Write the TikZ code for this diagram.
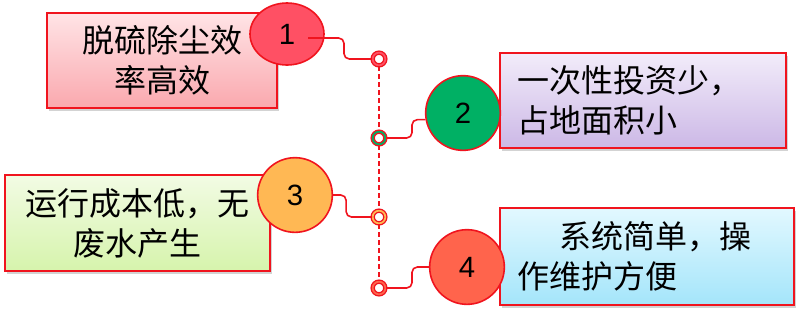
\documentclass[tikz,border=0pt]{standalone}
\usepackage{fontspec}
\setmainfont{Liberation Sans}
\newfontfamily\cjk{Noto Sans CJK SC}
\usepackage{tikz}
\usetikzlibrary{shapes.geometric, shadows, calc}
\definecolor{linkred}{RGB}{240,20,30}
\definecolor{topred}{RGB}{255,228,230}
\definecolor{botred}{RGB}{250,168,174}
\definecolor{toppurple}{RGB}{242,236,250}
\definecolor{botpurple}{RGB}{204,184,230}
\definecolor{topgreen}{RGB}{242,251,228}
\definecolor{botgreen}{RGB}{214,244,172}
\definecolor{topcyan}{RGB}{226,248,255}
\definecolor{botcyan}{RGB}{164,229,250}
\definecolor{discred}{RGB}{255,80,100}
\definecolor{discgreen}{RGB}{0,176,100}
\definecolor{discorange}{RGB}{255,184,84}
\definecolor{discsalmon}{RGB}{255,100,76}
\tikzset{
  featbox/.style={rectangle, draw=linkred, line width=1.2pt,
    font=\cjk\fontsize{24}{30}\selectfont, inner sep=0pt,
    drop shadow={shadow xshift=1.5pt, shadow yshift=-2pt, opacity=0.35}},
  numdisc/.style={circle, draw=linkred, line width=1.2pt, inner sep=0pt,
    minimum size=56pt, font=\fontsize{22}{26}\selectfont},
  joint/.style={circle, draw=linkred, line width=1pt, double=#1,
    double distance=1.3pt, fill=white, inner sep=0pt, minimum size=9.5pt},
  link/.style={linkred, line width=1.2pt, rounded corners=4pt},
  spine/.style={linkred, line width=1.1pt, dash pattern=on 3.5pt off 2.5pt}
}

\begin{document}
\begin{tikzpicture}[x=0.75pt, y=-0.75pt]
  \path[use as bounding box] (0,0) rectangle (800,330);
  % feature boxes
  \node[featbox, top color=topred, bottom color=botred, align=center,
    minimum width=172.5pt, minimum height=71.25pt] (b1) at (162,60.5)
    {脱硫除尘效\\率高效};
  \node[featbox, top color=toppurple, bottom color=botpurple, align=left,
    text width=189pt, inner xsep=12.75pt, minimum height=71.25pt] (b2) at (643,100.5)
    {一次性投资少，\\占地面积小};
  \node[featbox, top color=topgreen, bottom color=botgreen, align=center,
    minimum width=198.75pt, minimum height=72pt] (b3) at (137.5,223)
    {运行成本低，无\\废水产生};
  \node[featbox, top color=topcyan, bottom color=botcyan, align=left,
    text width=195pt, inner xsep=12.75pt, minimum height=72.75pt] (b4) at (647,256.5)
    {\hspace*{32pt}系统简单，操\\作维护方便};
  % numbered discs
  \node[ellipse, draw=linkred, line width=1.2pt, fill=discred, inner sep=0pt,
    minimum width=55.5pt, minimum height=46.5pt,
    font=\fontsize{22}{26}\selectfont] (c1) at (287,34) {1};
  \node[numdisc, fill=discgreen] (c2) at (463,113) {2};
  \node[numdisc, fill=discorange] (c3) at (295,195) {3};
  \node[numdisc, fill=discsalmon] (c4) at (467,267) {4};
  % joints on the spine
  \node[joint=discred] (j1) at (379,59) {};
  \node[joint=discgreen] (j2) at (379,138) {};
  \node[joint=discorange] (j3) at (379,217) {};
  \node[joint=discsalmon] (j4) at (379,288) {};
  \draw[spine] (j1) -- (j2);
  \draw[spine] (j2) -- (j3);
  \draw[spine] (j3) -- (j4);
  % links
  \draw[link] ($(c1.center)+(21,4)$) -- ++(36,0) |- (j1);
  \draw[link] (j2) -- ++(33,0) |- (c2.190);
  \draw[link] (c3.east) -- ++(13,0) |- (j3);
  \draw[link] (j4) -- ++(33,0) |- (c4);
\end{tikzpicture}
\end{document}
